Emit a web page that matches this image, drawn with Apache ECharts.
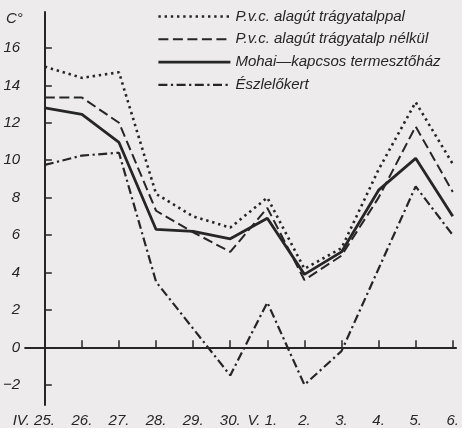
<!DOCTYPE html>
<html><head><meta charset="utf-8">
<script src="https://cdn.jsdelivr.net/npm/echarts@6/dist/echarts.min.js"></script>
<style>html,body{margin:0;padding:0;background:#edebeb;}#c{width:462px;height:428px;}</style>
</head><body><div id="c"></div>
<script>
const dayLabels = ["IV. 25.", "26.", "27.", "28.", "29.", "30.", "V. 1.", "2.", "3.", "4.", "5.", "6."];
const yTicks = [-2, 0, 2, 4, 6, 8, 10, 12, 14, 16];
const unitLabel = "C°";
const seriesNames = ["P.v.c. alagút trágyatalppal", "P.v.c. alagút trágyatalp nélkül", "Mohai—kapcsos termesztőház", "Észlelőkert"];
const pvcWith = [15.0, 14.4, 14.7, 8.2, 7.0, 6.4, 8.0, 4.2, 5.3, 9.5, 13.1, 9.8];
const pvcWithout = [13.35, 13.35, 12.0, 7.3, 6.15, 5.1, 7.45, 3.6, 4.9, 8.0, 11.8, 8.3];
const mohai = [12.8, 12.45, 10.95, 6.3, 6.2, 5.8, 6.9, 3.9, 5.1, 8.4, 10.1, 7.0];
const kert = [9.75, 10.25, 10.4, 3.5, 1.0, -1.5, 2.4, -2.0, -0.2, 4.2, 8.6, 6.0];

const ink = '#262626';
const font = '"Liberation Sans Narrow", "Liberation Sans", sans-serif';
const toPairs = arr => arr.map((v, i) => [i, v]);
const styles = [
  {width: 2.6, type: [2.4, 3.8]},
  {width: 2, type: [10, 4.5]},
  {width: 2.8, type: 'solid'},
  {width: 2.2, type: [9, 3.5, 2.2, 3.5]}
];
const datas = [pvcWith, pvcWithout, mohai, kert];
const chart = echarts.init(document.getElementById('c'), null, {renderer: 'canvas'});
chart.setOption({
  backgroundColor: '#edebeb',
  animation: false,
  title: {text: unitLabel, left: 6, top: 11, padding: 0,
    textStyle: {fontFamily: font, fontStyle: 'italic', fontWeight: 'normal', fontSize: 15, color: ink}},
  grid: {left: 25, right: 0, top: 12, bottom: 22.3, containLabel: false},
  legend: {
    orient: 'vertical', left: 157, top: 9, padding: 0, itemWidth: 72, itemHeight: 14, itemGap: 7.8,
    itemStyle: {opacity: 0},
    textStyle: {fontFamily: font, fontStyle: 'italic', fontSize: 15, color: ink},
    data: seriesNames.map((n, k) => ({name: n,
      lineStyle: {color: ink, width: styles[k].width, type: styles[k].type, cap: 'butt'}}))
  },
  xAxis: {
    type: 'value', min: -0.532, max: 11.09,
    splitLine: {show: false},
    axisLine: {lineStyle: {color: ink, width: 2}},
    axisTick: {inside: true, length: 7, lineStyle: {color: ink, width: 1.5}, customValues: dayLabels.map((d, i) => i)},
    axisLabel: {
      customValues: dayLabels.map((d, i) => i),
      margin: 8,
      formatter: v => {
        const t = dayLabels[Math.round(v)];
        if (Math.round(v) === 0) return '{a|' + t + '}';
        if (Math.round(v) === 6) return '{b|' + t + '}';
        return '{n|' + t + '}';
      },
      rich: {
        a: {fontFamily: font, fontStyle: 'italic', fontSize: 15, color: ink, padding: [0, 22, 0, 0]},
        b: {fontFamily: font, fontStyle: 'italic', fontSize: 15, color: ink, padding: [0, 10, 0, 0]},
        n: {fontFamily: font, fontStyle: 'italic', fontSize: 15, color: ink}
      }
    }
  },
  yAxis: {
    type: 'value', min: -3.08, max: 17.92,
    splitLine: {show: false},
    axisLine: {show: true, lineStyle: {color: ink, width: 2}},
    axisTick: {show: true, inside: true, length: 7, lineStyle: {color: ink, width: 1.5}, customValues: yTicks},
    axisLabel: {customValues: yTicks, margin: 5, fontFamily: font, fontStyle: 'italic', fontSize: 15, color: ink,
      formatter: v => String(v).replace('-', '−')}
  },
  series: datas.map((d, k) => ({
    name: seriesNames[k], type: 'line', data: toPairs(d),
    symbol: 'none', showSymbol: false, color: ink,
    lineStyle: {color: ink, width: styles[k].width, type: styles[k].type, cap: 'butt'}
  }))
});
</script></body></html>
